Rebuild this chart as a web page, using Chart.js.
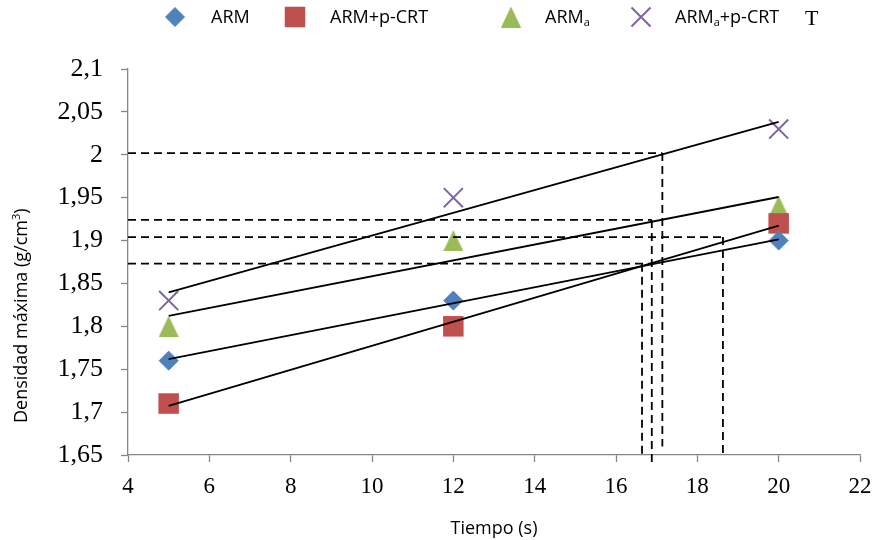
<!DOCTYPE html>
<html>
<head>
<meta charset="utf-8">
<script src="https://cdn.jsdelivr.net/npm/chart.js@4.4.1/dist/chart.umd.min.js"></script>
<style>
  html, body { margin: 0; padding: 0; background: #fff; }
  #wrap { width: 876px; height: 540px; }
</style>
</head>
<body>
<div id="wrap"><canvas id="chart" width="876" height="540"></canvas></div>
<script>
// tiempo de compactación (s)
const tiempos = [5, 12, 20];

// densidad máxima (g/cm3) de cada mezcla
const densARM = [1.76, 1.83, 1.90];
const densARMpCRT = [1.71, 1.80, 1.92];
const densARMa = [1.80, 1.90, 1.94];
const densARMapCRT = [1.83, 1.95, 2.03];

const nombres = ["ARM", "ARM+p-CRT", "ARMₐ", "ARMₐ+p-CRT"];

const xTicks = [4, 6, 8, 10, 12, 14, 16, 18, 20, 22];
const yTicks = [1.65, 1.7, 1.75, 1.8, 1.85, 1.9, 1.95, 2, 2.05, 2.1];

// lineas de lectura: nivel de densidad, hasta donde llega la horizontal,
// tiempo de la vertical y donde termina la vertical
const lecturaY = [2.002, 1.924, 1.904, 1.873];
const lecturaHastaX = [17.14, 16.88, 18.63, 16.88];
const lecturaX = [17.14, 16.88, 18.63, 16.64];
const lecturaFinY = [1.66, 1.641, 1.65, 1.65];

const colores = ["#4F81BD", "#C0504D", "#9BBB59", "#8064A2"];

// recta de minimos cuadrados entre el primer y el ultimo tiempo
const ajuste = (xs, ys) => {
  const n = xs.length;
  const mx = xs.reduce((a, b) => a + b, 0) / n;
  const my = ys.reduce((a, b) => a + b, 0) / n;
  let sxy = 0, sxx = 0;
  xs.forEach((x, i) => {
    sxy += (x - mx) * (ys[i] - my);
    sxx += (x - mx) * (x - mx);
  });
  const m = sxy / sxx;
  const b = my - m * mx;
  return [xs[0], xs[n - 1]].map((x) => ({ x: x, y: m * x + b }));
};

const puntos = (ys) => tiempos.map((t, i) => ({ x: t, y: ys[i] }));

const triangulo = (w, h, color) => {
  const c = document.createElement("canvas");
  c.width = w;
  c.height = h;
  const g = c.getContext("2d");
  g.fillStyle = color;
  g.beginPath();
  g.moveTo(w / 2, 0);
  g.lineTo(w, h);
  g.lineTo(0, h);
  g.closePath();
  g.fill();
  return c;
};

const estilos = [
  { pointStyle: "rectRot", radius: 9.5, borderWidth: 1 },
  { pointStyle: "rect", radius: 14.5, borderWidth: 0 },
  { pointStyle: triangulo(20, 21, colores[2]), radius: 10, borderWidth: 0 },
  { pointStyle: "crossRot", radius: 13.5, borderWidth: 2 },
];

const series = [densARM, densARMpCRT, densARMa, densARMapCRT];

const marcadores = series.map((ys, i) => ({
  label: nombres[i],
  data: puntos(ys),
  showLine: false,
  pointStyle: estilos[i].pointStyle,
  pointRadius: estilos[i].radius,
  pointBorderWidth: estilos[i].borderWidth,
  backgroundColor: colores[i],
  borderColor: colores[i],
  order: 2,
}));

const tendencias = series.map((ys) => ({
  data: ajuste(tiempos, ys),
  showLine: true,
  borderColor: "#000",
  borderWidth: 1.8,
  pointRadius: 0,
  order: 1,
}));

// todas las lineas discontinuas en un solo dataset, separadas por huecos
const guias = [];
lecturaY.forEach((y, i) => {
  guias.push({ x: xTicks[0], y: y }, { x: lecturaHastaX[i], y: y }, { x: lecturaHastaX[i], y: null });
  guias.push({ x: lecturaX[i], y: y }, { x: lecturaX[i], y: lecturaFinY[i] }, { x: lecturaX[i], y: null });
});

const discontinuas = {
  data: guias,
  showLine: true,
  spanGaps: false,
  borderColor: "#000",
  borderWidth: 1.8,
  borderDash: [8, 5],
  pointRadius: 0,
  clip: false,
  order: 0,
};

// texto con subindice: "ₐ" se dibuja como una a pequeña y baja
const textoSub = (ctx, txt, x, y, size) => {
  const partes = txt.split("ₐ");
  partes.forEach((p, i) => {
    ctx.font = size + "px 'Open Sans'";
    ctx.fillText(p, x, y);
    x += ctx.measureText(p).width;
    if (i < partes.length - 1) {
      ctx.font = Math.round(size * 0.62) + "px 'Open Sans'";
      ctx.fillText("a", x, y + 3);
      x += ctx.measureText("a").width;
    }
  });
};

const leyenda = {
  id: "leyenda",
  afterDraw(chart) {
    const ctx = chart.ctx;
    const marcaX = [175, 295, 511, 641];
    const textoX = [211, 330, 545, 675];
    const yc = 17;
    ctx.save();
    marcadores.forEach((ds, i) => {
      ctx.fillStyle = colores[i];
      ctx.strokeStyle = colores[i];
      ctx.lineWidth = estilos[i].borderWidth;
      Chart.helpers.drawPoint(ctx, {
        pointStyle: estilos[i].pointStyle,
        radius: estilos[i].radius,
        rotation: 0,
        borderWidth: estilos[i].borderWidth,
      }, marcaX[i], yc);
      ctx.fillStyle = "#000";
      ctx.textBaseline = "alphabetic";
      ctx.textAlign = "left";
      textoSub(ctx, ds.label, textoX[i], yc + 6, 18);
    });
    ctx.font = "22px 'Liberation Serif'";
    ctx.fillText("T", 805, yc + 8);

    // titulo del eje vertical
    ctx.translate(27, 423);
    ctx.rotate(-Math.PI / 2);
    ctx.font = "18px 'Open Sans'";
    const base = "Densidad máxima (g/cm";
    ctx.fillText(base, 0, 0);
    let w = ctx.measureText(base).width;
    ctx.font = "11px 'Open Sans'";
    ctx.fillText("3", w, -7);
    w += ctx.measureText("3").width;
    ctx.font = "18px 'Open Sans'";
    ctx.fillText(")", w, 0);
    ctx.restore();
  },
};

const gris = "#868686";

new Chart(document.getElementById("chart").getContext("2d"), {
  type: "scatter",
  data: { datasets: [...marcadores, ...tendencias, discontinuas] },
  options: {
    responsive: false,
    animation: false,
    layout: { padding: { top: 69, right: 16, left: 0, bottom: 0 } },
    plugins: { legend: { display: false }, tooltip: { enabled: false } },
    scales: {
      x: {
        type: "linear",
        min: 4,
        max: 22,
        afterBuildTicks: (s) => { s.ticks = xTicks.map((v) => ({ value: v })); },
        afterFit: (s) => {
          s.height = 85;
          s.paddingLeft = 0;
          s.paddingRight = 0;
        },
        ticks: {
          color: "#000",
          font: { family: "'Liberation Serif'", size: 23 },
          padding: 11,
          maxRotation: 0,
        },
        grid: { drawOnChartArea: false, tickLength: 7, tickColor: gris, tickWidth: 1.3 },
        border: { color: gris, width: 1.3 },
        title: {
          display: true,
          text: "Tiempo (s)",
          color: "#000",
          font: { family: "'Open Sans'", size: 18 },
          padding: { top: 0, bottom: 0 },
        },
      },
      y: {
        type: "linear",
        min: 1.65,
        max: 2.1,
        afterBuildTicks: (s) => { s.ticks = yTicks.map((v) => ({ value: v })); },
        afterFit: (s) => {
          s.width = 128;
          s.paddingTop = 0;
          s.paddingBottom = 0;
        },
        ticks: {
          color: "#000",
          font: { family: "'Liberation Serif'", size: 26 },
          padding: 18,
          callback: (v) => String(Math.round(v * 100) / 100).replace(".", ","),
        },
        grid: { drawOnChartArea: false, tickLength: 7, tickColor: gris, tickWidth: 1.3 },
        border: { color: gris, width: 1.3 },
      },
    },
  },
  plugins: [leyenda],
});
</script>
</body>
</html>
